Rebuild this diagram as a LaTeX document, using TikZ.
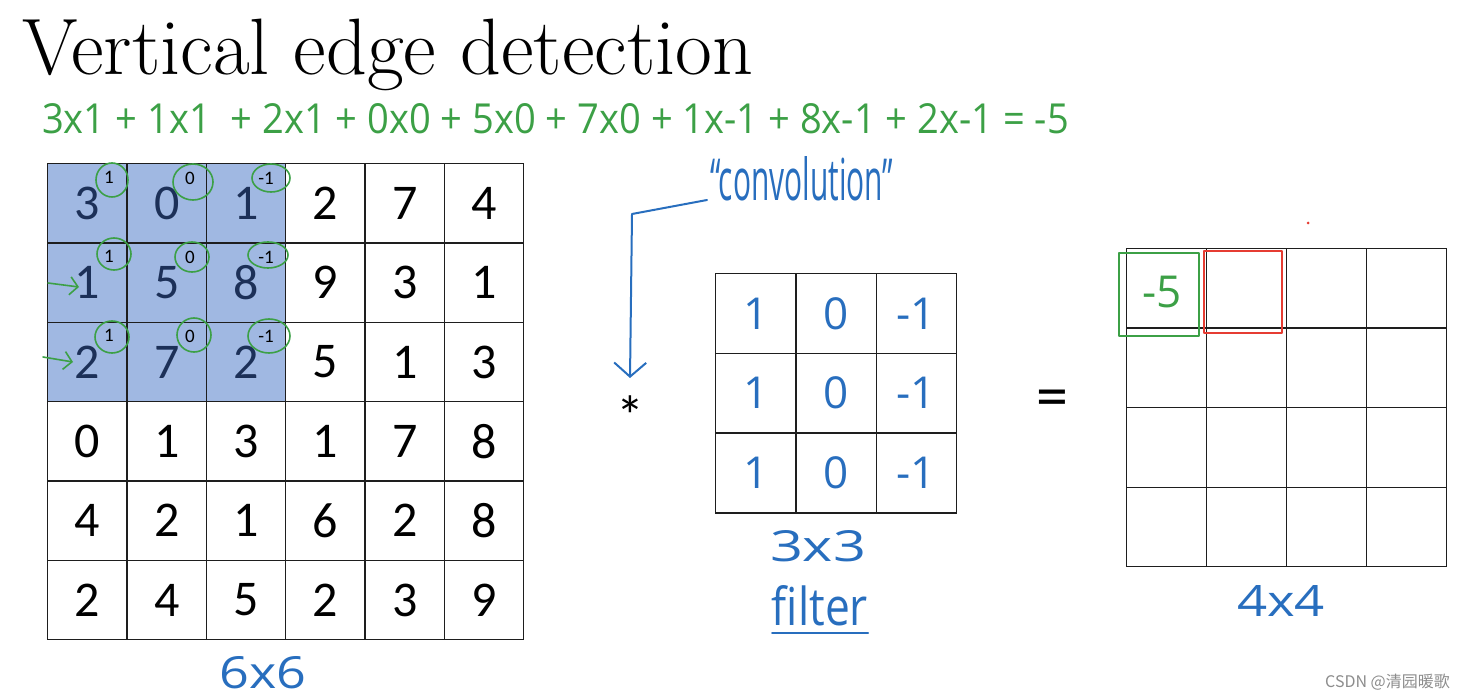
\documentclass[tikz,border=0pt]{standalone}
\usepackage{fontspec}
\usetikzlibrary{arrows.meta}
\newfontfamily\numfont{Carlito}
\newfontfamily\hand{Open Sans}
\newfontfamily\cjk{Noto Sans CJK SC}
\definecolor{hlblue}{RGB}{160,184,226}
\definecolor{navy}{RGB}{28,48,88}
\definecolor{pengreen}{RGB}{60,160,70}
\definecolor{penblue}{RGB}{40,110,190}
\definecolor{penred}{RGB}{230,60,50}
\definecolor{gridline}{RGB}{30,30,30}
\begin{document}
\begin{tikzpicture}[x=1pt,y=-1pt,
  cell/.style={draw=gridline,line width=1.4pt,minimum width=79.33pt,minimum height=79.33pt,
    inner sep=0pt,anchor=north west,font=\numfont\fontsize{50}{50}\selectfont},
  fcell/.style={draw=gridline,line width=1.4pt,minimum width=80.3pt,minimum height=79.7pt,
    inner sep=0pt,anchor=north west,text=penblue,font=\hand\fontsize{44}{44}\selectfont},
  ocell/.style={draw=gridline,line width=1.4pt,minimum width=80pt,minimum height=79.5pt,
    inner sep=0pt,anchor=north west},
  ring/.style={draw=pengreen,line width=1.6pt},
  small/.style={font=\numfont\fontsize{19}{19}\selectfont,inner sep=0pt},
  penlbl/.style={inner sep=0pt,text=penblue},
  pen/.style={line width=2pt,line cap=round,line join=round}]
\useasboundingbox (0,0) rectangle (1466,700);

% title
\node[anchor=base west,inner sep=0pt,font=\fontsize{80}{80}\selectfont] (title) at (22,75) {Vertical edge detection};

% equation
\node[anchor=north west,inner sep=0pt,text=pengreen] (eq) at (42,103)
  {\resizebox{1026pt}{30pt}{\hand 3x1 + 1x1 \ + 2x1 + 0x0 + 5x0 + 7x0 + 1x-1 + 8x-1 + 2x-1 = -5}};

% highlight
\fill[hlblue] (47,163) rectangle (285,402);

% 6x6 grid
\foreach \r/\vals in {0/{3,0,1,2,7,4},1/{1,5,8,9,3,1},2/{2,7,2,5,1,3},3/{0,1,3,1,7,8},4/{4,2,1,6,2,8},5/{2,4,5,2,3,9}}{
  \foreach \v [count=\c from 0] in \vals {
    \ifnum\r<3 \ifnum\c<3 \def\tc{navy}\else\def\tc{black}\fi\else\def\tc{black}\fi
    \node[cell,text=\tc] (m\r\c) at ({47+\c*79.33},{163+\r*79.33}) {\v};
  }
}

% circled filter weights
\foreach \r in {0,1,2}{
  \node[small] (w\r a) at ({109},{177+\r*79.33}) {1};
  \node[small] (w\r b) at ({190},{178+\r*79.33}) {0};
  \node[small] (w\r c) at ({266},{178+\r*79.33}) {-1};
}
\draw[ring] (112,180) ellipse [x radius=16,y radius=17];
\draw[ring] (193,182) ellipse [x radius=20,y radius=18];
\draw[ring] (271,178) ellipse [x radius=19,y radius=14];
\draw[ring] (114,254) ellipse [x radius=17,y radius=16];
\draw[ring] (192,257) ellipse [x radius=17,y radius=15];
\draw[ring] (268,255) ellipse [x radius=20,y radius=13];
\draw[ring] (112,337) ellipse [x radius=17,y radius=16];
\draw[ring] (194,335) ellipse [x radius=17,y radius=17];
\draw[ring] (269,336) ellipse [x radius=21,y radius=17];

% green pointer arrows
\coordinate (g1s) at (48,283); \coordinate (g1e) at (79,287);
\coordinate (g2s) at (43,357); \coordinate (g2e) at (73,362);
\draw[pen,pengreen,line width=1.6pt,-{Straight Barb[length=8pt,width=18pt]}] (g1s) -- (g1e);
\draw[pen,pengreen,line width=1.6pt,-{Straight Barb[length=8pt,width=18pt]}] (g2s) -- (g2e);

\node[penlbl,anchor=north] (six) at (263,656) {\resizebox{87pt}{32pt}{\hand 6x6}};

% convolution label and arrow
\node[penlbl,anchor=north west] (conv) at (710,156) {\resizebox{183pt}{44pt}{\hand “convolution”}};
\coordinate (a1) at (707,200);
\coordinate (a2) at (632,214);
\coordinate (a3) at (630,378);
\draw[pen,penblue,-{Straight Barb[length=14pt,width=32pt]}] (a1) -- (a2) -- (a3);
\node[inner sep=0pt,font=\numfont\fontsize{56}{56}\selectfont] (star) at (630,416) {*};

% filter
\foreach \r/\vals in {0/{1,0,-1},1/{1,0,-1},2/{1,0,-1}}{
  \foreach \v [count=\c from 0] in \vals {
    \node[fcell] (f\r\c) at ({715+\c*80.3},{273+\r*79.7}) {\v};
  }
}
\node[penlbl,anchor=north] (f33) at (818,530) {\resizebox{96pt}{31pt}{\hand 3x3}};
\node[penlbl,anchor=north] (flt) at (820,585) {\resizebox{96pt}{40pt}{\hand filter}};
\coordinate (u1) at (772,633); \coordinate (u2) at (868,633);
\draw[pen,penblue] (u1) -- (u2);

% equals
\node[inner sep=0pt,font=\numfont\fontsize{64}{64}\selectfont] (eqs) at (1052,404) {=};

% output grid
\foreach \r in {0,1,2,3}{
  \foreach \c in {0,1,2,3}{
    \node[ocell] (o\r\c) at ({1126+\c*80},{248+\r*79.5}) {};
  }
}
\node[inner sep=0pt,text=pengreen,font=\hand\fontsize{44}{44}\selectfont] (res) at (1162,292) {-5};
\draw[pengreen,line width=2.2pt,line join=round] (1119,253) rectangle (1199,336);
\draw[penred,line width=2.2pt,line join=round] (1204,251) rectangle (1282,333);
\fill[penred] (1308,223) circle (1.5);
\node[penlbl,anchor=north] (four) at (1281,585) {\resizebox{88pt}{31pt}{\hand 4x4}};

% watermark
\node[anchor=east,inner sep=0pt,text=black!45,font=\cjk\fontsize{16}{16}\selectfont] (wm) at (1450,682) {CSDN @清园暖歌};
\end{tikzpicture}
\end{document}
